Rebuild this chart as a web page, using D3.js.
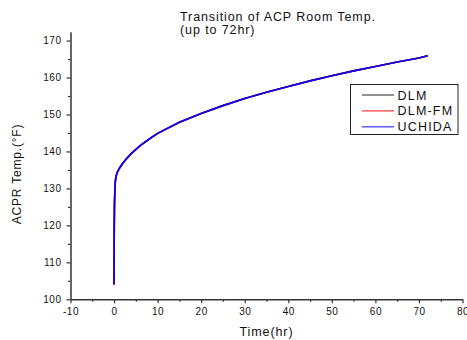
<!DOCTYPE html>
<html>
<head>
<meta charset="utf-8">
<script src="https://cdn.jsdelivr.net/npm/d3@7"></script>
<style>
  body { margin: 0; background: #fff; }
  text { font-family: "Liberation Sans", Arial, sans-serif; fill: #111; }
</style>
</head>
<body>
<div id="container"></div>
<script>
// time (hr) and room temperature (°F)
const timeHr = [0, 0.02, 0.05, 0.1, 0.2, 0.3, 0.5, 0.8, 1.2, 2, 3, 4, 6, 8, 10, 15, 20, 25, 30, 35, 40, 45, 50, 55, 60, 65, 70, 72];
const dlm    = [104, 112, 120, 126, 130, 132, 133.5, 134.5, 135.4, 136.8, 138.2, 139.5, 141.6, 143.3, 144.9, 147.9, 150.3, 152.4, 154.3, 156, 157.6, 159.1, 160.5, 161.8, 163, 164.2, 165.3, 165.9];
const dlmFm  = [104, 112, 120.5, 126.5, 130.6, 132.3, 133.6, 134.5, 135.4, 136.8, 138.2, 139.5, 141.6, 143.3, 144.9, 147.9, 150.3, 152.4, 154.3, 156, 157.6, 159.1, 160.5, 161.8, 163, 164.2, 165.3, 165.9];
const uchida = [104, 112, 119.5, 125.5, 129.6, 131.8, 133.4, 134.5, 135.4, 136.8, 138.2, 139.5, 141.6, 143.3, 144.9, 147.9, 150.3, 152.4, 154.3, 156, 157.6, 159.1, 160.5, 161.8, 163, 164.2, 165.3, 165.9];

const seriesNames = ['DLM', 'DLM-FM', 'UCHIDA'];
const seriesColors = ['#222222', '#ff0000', '#0000ff'];
const legendColors = ['#555555', '#ff4444', '#4444ff'];
const seriesValues = [dlm, dlmFm, uchida];

const xTicks = [-10, 0, 10, 20, 30, 40, 50, 60, 70, 80];
const yTicks = [100, 110, 120, 130, 140, 150, 160, 170];

const width = 467, height = 340;
const svg = d3.select('#container').append('svg')
  .attr('width', width)
  .attr('height', height);

const x = d3.scaleLinear().domain([-10, 80]).range([70.5, 462.5]);
const y = d3.scaleLinear().domain([100, 172.4]).range([299.3, 31.7]);

// -- series lines
const line = d3.line()
  .x((d, i) => x(timeHr[i]))
  .y(d => y(d));

svg.append('g')
  .attr('fill', 'none')
  .attr('stroke-width', 1.6)
  .selectAll('path')
  .data(seriesValues)
  .join('path')
  .attr('stroke', (d, i) => seriesColors[i])
  .attr('d', line);

// -- axes
const axisColor = '#333';
const xAxis = svg.append('g')
  .attr('transform', `translate(0,${y(100)})`)
  .call(d3.axisBottom(x).tickValues(xTicks).tickSize(4).tickSizeOuter(0).tickPadding(5).tickFormat(d => String(d)));
const xMinor = svg.append('g')
  .attr('transform', `translate(0,${y(100)})`)
  .call(d3.axisBottom(x).tickValues(d3.range(-5, 80, 10)).tickSize(2.5).tickFormat(''));
xMinor.select('.domain').remove();

const yAxis = svg.append('g')
  .attr('transform', `translate(${x(-10)},0)`)
  .call(d3.axisLeft(y).tickValues(yTicks).tickSize(4).tickSizeOuter(0).tickPadding(5).tickFormat(d => String(d)));
const yMinor = svg.append('g')
  .attr('transform', `translate(${x(-10)},0)`)
  .call(d3.axisLeft(y).tickValues(d3.range(105, 172, 10)).tickSize(2.5).tickFormat(''));
yMinor.select('.domain').remove();

[xAxis, yAxis, xMinor, yMinor].forEach(g => {
  g.selectAll('.domain').attr('stroke', axisColor).attr('stroke-width', 1.5);
  g.selectAll('.tick line').attr('stroke', axisColor).attr('stroke-width', 1.2);
  g.selectAll('.tick text')
    .style('font-size', '10px')
    .style('letter-spacing', '0.5px')
    .style('font-family', '"Liberation Sans", Arial, sans-serif')
    .attr('fill', '#111');
});

// -- axis titles
svg.append('text')
  .attr('x', (x(-10) + x(80)) / 2)
  .attr('y', 335.5)
  .attr('text-anchor', 'middle')
  .style('font-size', '12.5px')
  .style('letter-spacing', '0.9px')
  .text('Time(hr)');

svg.append('text')
  .attr('transform', `translate(20.5,174) rotate(-90)`)
  .attr('text-anchor', 'middle')
  .style('font-size', '12px')
  .style('letter-spacing', '0.8px')
  .text('ACPR Temp.(°F)');

// -- title
svg.append('text')
  .attr('x', 180)
  .attr('y', 20.7)
  .style('font-size', '12.5px')
  .style('letter-spacing', '0.9px')
  .text('Transition of ACP Room Temp.');
svg.append('text')
  .attr('x', 180)
  .attr('y', 33.8)
  .style('font-size', '12.5px')
  .style('letter-spacing', '0.9px')
  .text('(up to 72hr)');

// -- legend
const legend = svg.append('g');
legend.append('rect')
  .attr('x', 350.5)
  .attr('y', 84.5)
  .attr('width', 107.5)
  .attr('height', 50)
  .attr('fill', '#fff')
  .attr('stroke', '#222')
  .attr('stroke-width', 1);

const rows = legend.selectAll('g.row')
  .data(seriesNames)
  .join('g')
  .attr('class', 'row')
  .attr('transform', (d, i) => `translate(0,${95 + i * 15.9})`);
rows.append('line')
  .attr('x1', 362)
  .attr('x2', 394)
  .attr('stroke', (d, i) => legendColors[i])
  .attr('stroke-width', 1.3);
rows.append('text')
  .attr('x', 397.5)
  .attr('y', 4.5)
  .style('font-size', '12.5px')
  .style('letter-spacing', '1.2px')
  .text(d => d);
</script>
</body>
</html>
